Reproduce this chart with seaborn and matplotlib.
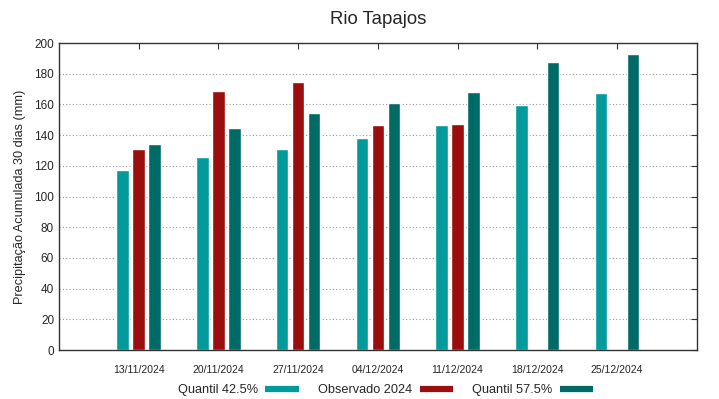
import numpy as np
import pandas as pd
import matplotlib
matplotlib.use("Agg")
import matplotlib.pyplot as plt
import seaborn as sns
from matplotlib.lines import Line2D

datas = ["13/11/2024", "20/11/2024", "27/11/2024", "04/12/2024",
         "11/12/2024", "18/12/2024", "25/12/2024"]
q425 = [117.3, 126.0, 131.0, 138.0, 146.4, 159.4, 167.6]
obs2024 = [131.0, 168.7, 174.8, 146.4, 147.2, np.nan, np.nan]
q575 = [134.0, 144.8, 154.2, 161.0, 168.0, 187.4, 192.6]
series = ["Quantil 42.5%", "Observado 2024", "Quantil 57.5%"]
cores = ["#029a9a", "#9a0e0e", "#006a66"]

sns.set_style("white")
plt.rcParams["font.family"] = ["Liberation Sans", "DejaVu Sans"]

df = pd.DataFrame({
    "data": datas * 3,
    "valor": q425 + obs2024 + q575,
    "serie": [s for s in series for _ in datas],
})

fig = plt.figure(figsize=(7.19, 3.99), dpi=100)
ax = fig.add_axes([0.082, 0.1228, 0.887, 0.7692])

sns.barplot(data=df, x="data", y="valor", hue="serie", hue_order=series,
            order=datas, palette=cores, width=0.6, gap=0.215,
            saturation=1, errorbar=None, legend=False, ax=ax)

ax.set_xlim(-1, 7)
ax.set_ylim(0, 200)
ax.set_yticks(range(0, 201, 20))
for y in range(20, 200, 20):
    ax.axhline(y, color="#999999", lw=0.8, ls=(0, (1, 2)), zorder=0)

ax.tick_params(axis="both", direction="in", top=True, right=True,
               length=4, width=0.8, color="#333333")
ax.tick_params(axis="x", labelsize=7.5, pad=11)
ax.tick_params(axis="y", labelsize=8.5)
for sp in ax.spines.values():
    sp.set_color("#333333")
    sp.set_linewidth(1.0)

ax.set_xlabel("")
ax.set_ylabel("Precipitação Acumulada 30 dias (mm)", fontsize=9.2, labelpad=6)
ax.set_title("Rio Tapajos", fontsize=13.4, pad=14)

handles = [Line2D([0], [0], color=c, lw=4.5, solid_capstyle="butt")
           for c in cores]
fig.legend(handles, series, loc="center", bbox_to_anchor=(0.536, 0.022),
           ncol=3, frameon=False, markerfirst=False, fontsize=9.2,
           handlelength=2.6, columnspacing=1.5, handletextpad=0.6,
           borderpad=0, borderaxespad=0)

fig.savefig("out.png", dpi=100)
